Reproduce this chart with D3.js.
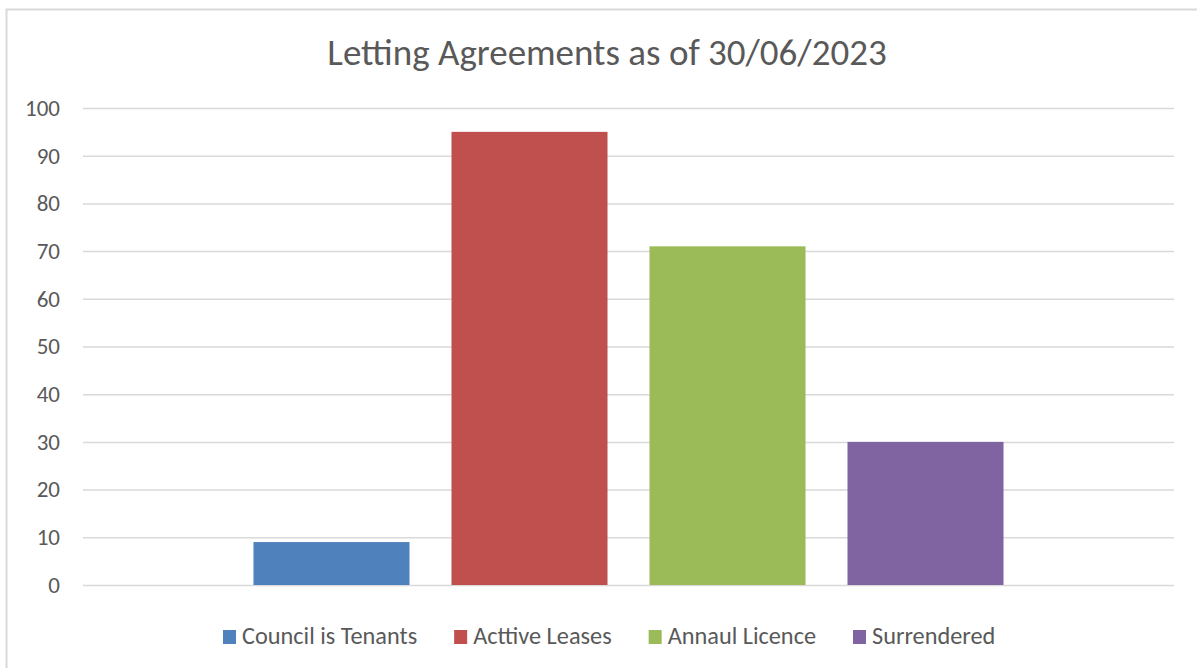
<!DOCTYPE html>
<html lang="en">
<head>
    <meta charset="UTF-8">
    <title>Letting Agreements as of 30/06/2023</title>
    <script src="https://d3js.org/d3.v7.min.js"></script>
    <style>
        body {
            margin: 0;
            background: #fff;
        }
        svg text {
            font-family: Carlito, "Open Sans", "Liberation Sans", sans-serif;
            fill: #595959;
        }
        .grid line {
            stroke: #d9d9d9;
            stroke-width: 1.5;
        }
    </style>
</head>
<body>

<svg></svg>

<script>
    const categories = ["Council is Tenants", "Acttive Leases", "Annaul Licence", "Surrendered"];
    const values = [9, 95, 71, 30];
    const colors = ["#4f81bd", "#c0504d", "#9bbb59", "#8064a2"];
    const yTicks = [0, 10, 20, 30, 40, 50, 60, 70, 80, 90, 100];
    const title = "Letting Agreements as of 30/06/2023";

    const width = 1197, height = 668;
    const plot = { left: 83, right: 1174, top: 108, bottom: 585 };

    const svg = d3.select("svg")
        .attr("width", width)
        .attr("height", height);

    // outer chart border (runs off the bottom/right of the picture)
    svg.append("rect")
        .attr("x", 6.5)
        .attr("y", 9.5)
        .attr("width", 1220)
        .attr("height", 700)
        .attr("fill", "#fff")
        .attr("stroke", "#d9d9d9")
        .attr("stroke-width", 2);

    const y = d3.scaleLinear()
        .domain([0, 100])
        .range([plot.bottom, plot.top]);

    const x = d3.scaleBand()
        .domain(categories)
        .range([plot.left, plot.right])
        .paddingInner(0.212)
        .paddingOuter(0.861);

    const grid = svg.append("g")
        .attr("class", "grid")
        .attr("transform", `translate(${plot.left},0)`)
        .call(d3.axisLeft(y)
            .tickValues(yTicks)
            .tickSize(-(plot.right - plot.left))
            .tickPadding(23));

    grid.select(".domain").remove();
    grid.selectAll("text")
        .style("font-size", "23px")
        .attr("fill", "#595959");

    svg.append("g")
        .selectAll("rect")
        .data(values)
        .enter().append("rect")
        .attr("x", (d, i) => x(categories[i]))
        .attr("y", d => y(d))
        .attr("width", x.bandwidth())
        .attr("height", d => y(0) - y(d))
        .attr("fill", (d, i) => colors[i]);

    svg.append("text")
        .attr("x", 607)
        .attr("y", 65)
        .attr("text-anchor", "middle")
        .style("font-size", "37px")
        .text(title);

    // legend, laid out left to right from the measured label widths
    const legend = svg.append("g");
    let lx = 223;
    categories.forEach((c, i) => {
        legend.append("rect")
            .attr("x", lx)
            .attr("y", 630)
            .attr("width", 13)
            .attr("height", 14)
            .attr("fill", colors[i]);
        const t = legend.append("text")
            .attr("x", lx + 19)
            .attr("y", 644)
            .style("font-size", "24.3px")
            .text(c);
        lx += 19 + t.node().getComputedTextLength() + 37;
    });
</script>

</body>
</html>
